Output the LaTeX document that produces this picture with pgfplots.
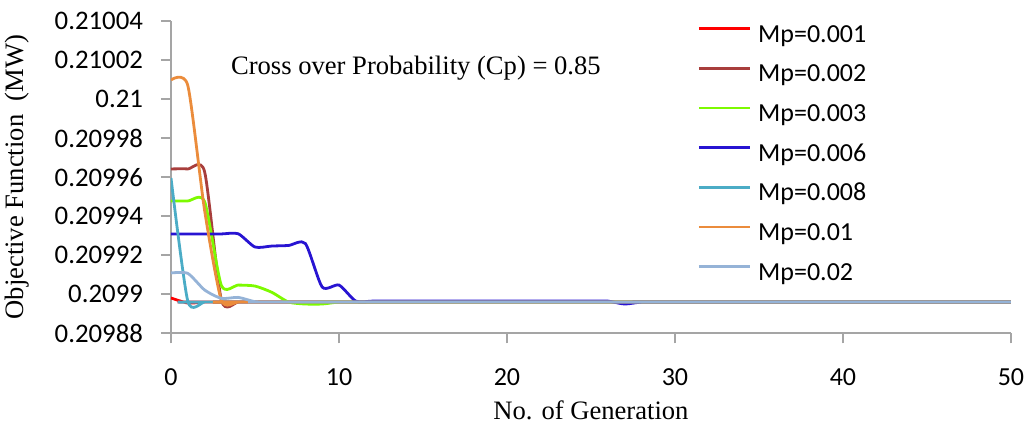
\documentclass[border=0pt]{standalone}
\usepackage{fontspec}
\setmainfont{Liberation Serif}
\newfontfamily\calibri{Carlito}
\usepackage{pgfplots}
\pgfplotsset{compat=1.18}

\definecolor{axgray}{RGB}{165,165,165}
\definecolor{mpA}{RGB}{255,0,0}
\definecolor{mpB}{RGB}{168,62,60}
\definecolor{mpC}{RGB}{125,250,0}
\definecolor{mpD}{RGB}{40,20,210}
\definecolor{mpE}{RGB}{75,172,198}
\definecolor{mpF}{RGB}{235,140,60}
\definecolor{mpG}{RGB}{149,179,215}

\begin{document}
\begin{tikzpicture}
\path[use as bounding box] (-85.5pt,-46.85pt) rectangle (429.5pt,166.65pt);
\begin{axis}[
    at={(0,0)}, anchor=south west,
    scale only axis, width=420pt, height=156.15pt,
    xmin=0, xmax=50, ymin=988, ymax=1004,
    axis x line*=bottom, axis y line*=left,
    axis line style={axgray, line width=0.8pt},
    xtick={0,10,...,50},
    % y is plotted as (objective - 0.2) x 1e5
    ytick={988,990,...,1004},
    yticklabels={0.20988,0.2099,0.20992,0.20994,0.20996,0.20998,0.21,0.21002,0.21004},
    tick align=outside, major tick length=5pt,
    tick style={axgray, line width=0.8pt},
    /pgf/number format/assume math mode=true,
    xticklabel style={font=\calibri\fontsize{13}{15}\selectfont, anchor=base, yshift=-21pt},
    yticklabel style={font=\calibri\fontsize{13.4}{15}\selectfont, anchor=east, xshift=-5.5pt},
    xlabel={No. of Generation},
    ylabel={Objective Function\ \ (MW)},
    label style={font=\fontsize{13.3}{16}\selectfont},
    xlabel style={at={(axis description cs:0.5,0)}, anchor=base, yshift=-43.35pt},
    ylabel style={at={(axis description cs:-0.1833,0.5)}, anchor=center},
    legend cell align=left,
    legend style={at={(rel axis cs:0.6262,0.9913)}, anchor=north west,
        draw=none, fill=none, inner sep=0pt, row sep=7.85pt, column sep=3.5pt,
        font=\calibri\fontsize{13}{15}\selectfont,
        nodes={inner sep=0pt, text height=9pt, text depth=3pt}},
    legend image code/.code={\draw[#1] (0pt,3.8pt) -- (25.5pt,3.8pt);},
    every axis plot/.append style={line width=1.4pt, smooth, tension=0.4},
]
\addplot[mpA] coordinates {(0,989.81) (1,989.55) (2,989.6) (3,989.6) (50,989.6)};
\addlegendentry{Mp=0.001}
\addplot[mpB] coordinates {(0,996.42) (1,996.42) (2,996.28) (3,989.7) (4,989.6) (5,989.6) (50,989.6)};
\addlegendentry{Mp=0.002}
\addplot[mpC] coordinates {(0,994.78) (1,994.78) (2,994.75) (3,990.45) (4,990.47) (5,990.42)
    (6,990.1) (7,989.6) (8,989.5) (9,989.5) (10,989.6) (11,989.6) (50,989.6)};
\addlegendentry{Mp=0.003}
\addplot[mpD] coordinates {(0,993.09) (1,993.09) (2,993.09) (3,993.09) (4,993.1) (5,992.42)
    (6,992.47) (7,992.5) (8,992.6) (9,990.37) (10,990.47) (11,989.65) (12,989.65) (13,989.65)
    (25,989.65) (26,989.65) (27,989.5) (28,989.6) (29,989.6) (50,989.6)};
\addlegendentry{Mp=0.006}
\addplot[mpE] coordinates {(0,995.96) (1,989.65) (2,989.6) (3,989.6) (50,989.6)};
\addlegendentry{Mp=0.008}
\addplot[mpF] coordinates {(0,1000.98) (1,1000.7) (2,994.3) (3,989.7) (4,989.6) (5,989.6) (50,989.6)};
\addlegendentry{Mp=0.01}
\addplot[mpG] coordinates {(0,991.09) (1,991.07) (2,990.22) (3,989.79) (4,989.84) (5,989.62)
    (6,989.6) (7,989.6) (50,989.6)};
\addlegendentry{Mp=0.02}
\node[anchor=base west, font=\fontsize{13.3}{16}\selectfont] at (rel axis cs:0.0631,0.8271)
    {Cross over Probability (Cp) = 0.85};
\end{axis}
\end{tikzpicture}
\end{document}
